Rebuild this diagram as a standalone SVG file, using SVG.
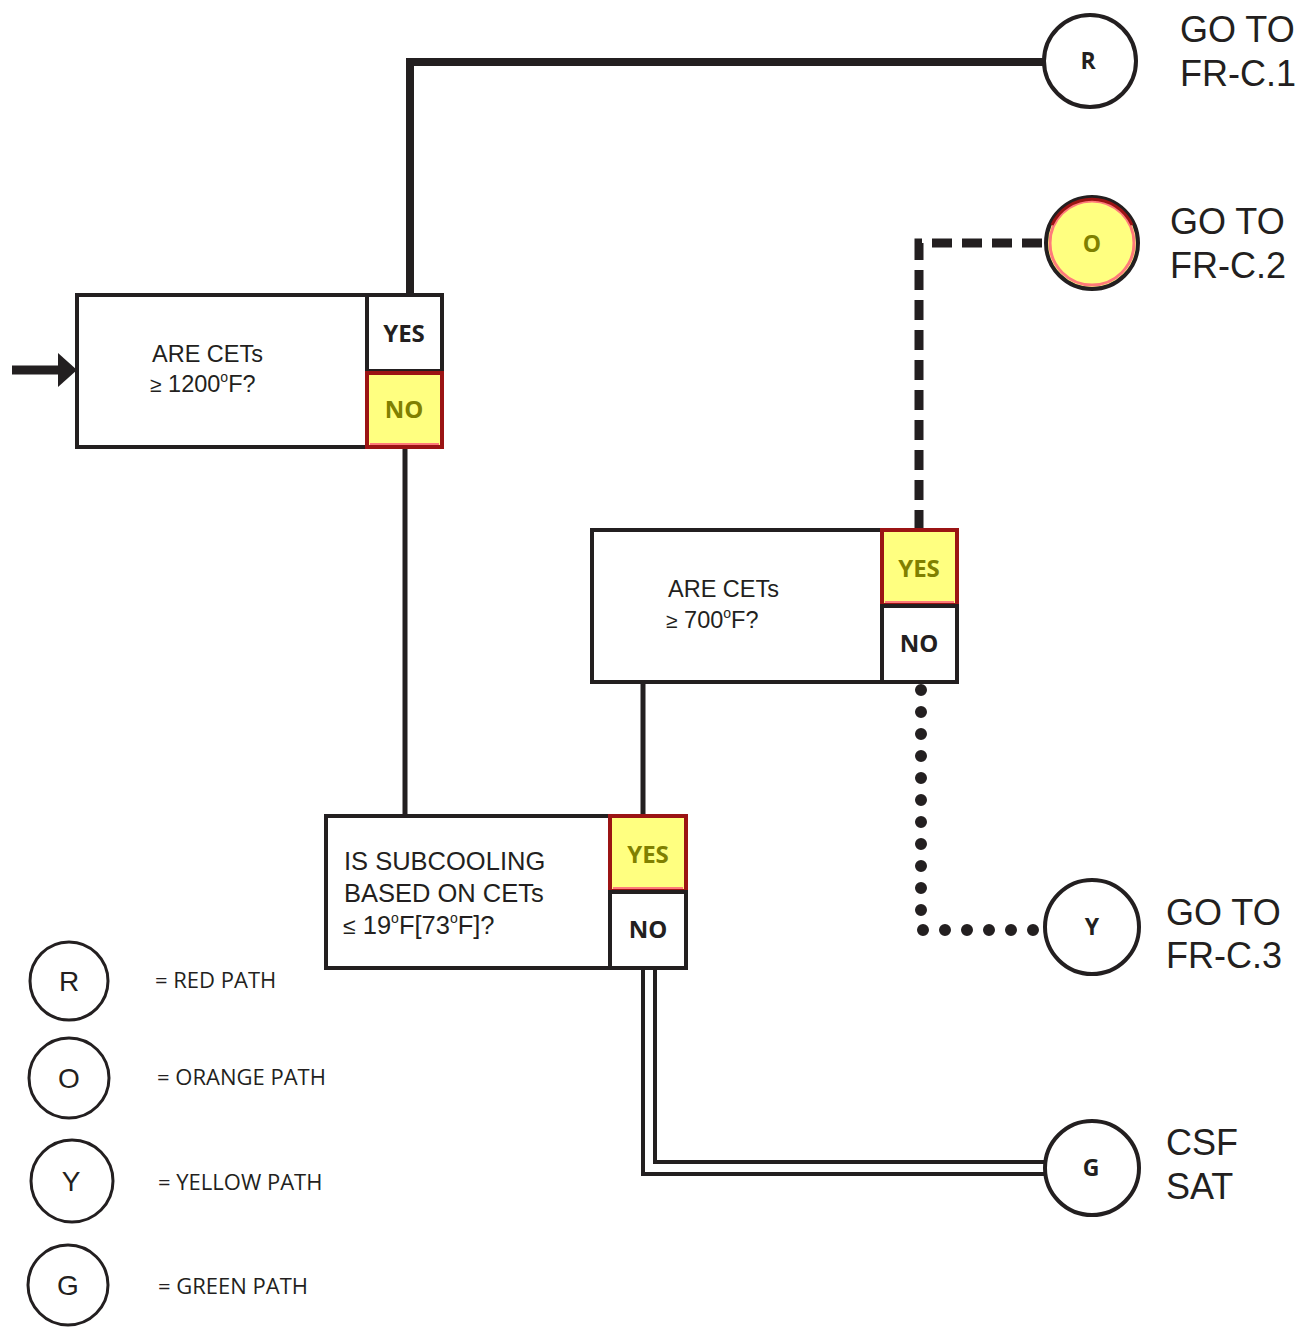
<svg xmlns="http://www.w3.org/2000/svg" width="1307" height="1332" viewBox="0 0 1307 1332">
<style>
.box{fill:#fff;stroke:#231f20;stroke-width:4}
.cell{fill:#fff;stroke:#231f20;stroke-width:4}
.hl{fill:#ffff80;stroke:#9b1414;stroke-width:4}
.hlin{fill:none;stroke:#ff7a7a;stroke-width:2}
.q{font-family:"Liberation Sans",Arial,sans-serif;font-size:23.5px;fill:#231f20}
.q3{font-family:"Liberation Sans",Arial,sans-serif;font-size:25.5px;fill:#231f20}
.yn{font-family:"Open Sans",sans-serif;font-weight:bold;font-size:24px;text-anchor:middle;fill:#231f20}
.ynh{fill:#808000}
.ep{fill:#fff;stroke:#231f20;stroke-width:4}
.epl{font-family:"Open Sans",sans-serif;font-weight:bold;font-size:23px;text-anchor:middle;fill:#231f20}
.go{font-family:"Liberation Sans",Arial,sans-serif;font-size:36px;fill:#231f20}
.lg{fill:#fff;stroke:#231f20;stroke-width:3}
.lgl{font-family:"Liberation Sans",Arial,sans-serif;font-size:28px;text-anchor:middle;fill:#231f20}
.lgt{font-family:"Open Sans",sans-serif;font-size:22px;fill:#231f20}
.sm{font-size:21px}
.sup{font-size:14px}
</style>
<g id="connectors" fill="none" stroke="#231f20">
  <path d="M410 295 V62 H1043" stroke-width="8"/>
  <path d="M12 370 H60" stroke-width="9"/>
  <polygon points="58,353 77,370 58,387" fill="#231f20" stroke="none"/>
  <path d="M405 447 V816" stroke-width="5"/>
  <path d="M643 682 V816" stroke-width="5"/>
  <path d="M919 530 V243 H1046" stroke-width="9" stroke-dasharray="20 10"/>
  <path d="M921 690 V930 H1045" stroke-width="12" stroke-linecap="round" stroke-dasharray="0 22"/>
  <path d="M643 968 V1174 H1046" stroke-width="4"/>
  <path d="M655 968 V1162 H1046" stroke-width="4"/>
</g>
<g id="q1">
  <rect class="box" x="77" y="295" width="365" height="152"/>
  <rect class="cell" x="367" y="295" width="75" height="76"/>
  <rect class="hl" x="367" y="373" width="75" height="74"/>
  <line class="hlin" x1="370" y1="444" x2="439" y2="444"/>
  <text class="q" x="152" y="362">ARE CETs</text>
  <text class="q" x="150" y="392"><tspan class="sm">≥</tspan> 1200<tspan class="sup" dy="-10">o</tspan><tspan dy="10">F?</tspan></text>
  <text class="yn" x="404" y="342">YES</text>
  <text class="yn ynh" x="404" y="418">NO</text>
</g>
<g id="q2">
  <rect class="box" x="592" y="530" width="365" height="152"/>
  <rect class="hl" x="882" y="530" width="75" height="75"/>
  <line class="hlin" x1="885" y1="602" x2="954" y2="602"/>
  <rect class="cell" x="882" y="606" width="75" height="76"/>
  <text class="q" x="668" y="597">ARE CETs</text>
  <text class="q" x="666" y="628"><tspan class="sm">≥</tspan> 700<tspan class="sup" dy="-10">o</tspan><tspan dy="10">F?</tspan></text>
  <text class="yn ynh" x="919" y="577">YES</text>
  <text class="yn" x="919" y="652">NO</text>
</g>
<g id="q3">
  <rect class="box" x="326" y="816" width="360" height="152"/>
  <rect class="hl" x="610" y="816" width="76" height="75"/>
  <line class="hlin" x1="613" y1="888" x2="683" y2="888"/>
  <rect class="cell" x="610" y="892" width="76" height="76"/>
  <text class="q3" x="344" y="870">IS SUBCOOLING</text>
  <text class="q3" x="344" y="902">BASED ON CETs</text>
  <text class="q3" x="343" y="934"><tspan font-size="23">≤</tspan> 19<tspan class="sup" dy="-11">o</tspan><tspan dy="11">F[73</tspan><tspan class="sup" dy="-11">o</tspan><tspan dy="11">F]?</tspan></text>
  <text class="yn ynh" x="648" y="863">YES</text>
  <text class="yn" x="648" y="938">NO</text>
</g>
<g id="end-r">
  <circle class="ep" cx="1090" cy="61" r="46"/>
  <text class="epl" x="1088" y="69">R</text>
  <text class="go" x="1180" y="42">GO TO</text>
  <text class="go" x="1180" y="86">FR-C.1</text>
</g>
<g id="end-o">
  <circle cx="1092" cy="243" r="46" fill="#ffff80" stroke="#231f20" stroke-width="4"/>
  <circle cx="1092" cy="243" r="42" fill="none" stroke="#ff7a7a" stroke-width="3"/>
  <path d="M1052 225 A44 44 0 0 1 1132 225" fill="none" stroke="#9b1414" stroke-width="3"/>
  <text class="epl" x="1092" y="252" style="fill:#808000">O</text>
  <text class="go" x="1170" y="234">GO TO</text>
  <text class="go" x="1170" y="278">FR-C.2</text>
</g>
<g id="end-y">
  <circle class="ep" cx="1092" cy="927" r="47"/>
  <text class="epl" x="1092" y="935">Y</text>
  <text class="go" x="1166" y="925">GO TO</text>
  <text class="go" x="1166" y="968">FR-C.3</text>
</g>
<g id="end-g">
  <circle class="ep" cx="1092" cy="1168" r="47"/>
  <text class="epl" x="1091" y="1176">G</text>
  <text class="go" x="1166" y="1155">CSF</text>
  <text class="go" x="1166" y="1199">SAT</text>
</g>
<g id="legend">
  <circle class="lg" cx="69" cy="981" r="39"/>
  <text class="lgl" x="69" y="991">R</text>
  <text class="lgt" x="155" y="988">= RED PATH</text>
  <circle class="lg" cx="69" cy="1078" r="40"/>
  <text class="lgl" x="69" y="1088">O</text>
  <text class="lgt" x="157" y="1085">= ORANGE PATH</text>
  <circle class="lg" cx="72" cy="1181" r="41"/>
  <text class="lgl" x="71" y="1191">Y</text>
  <text class="lgt" x="158" y="1190">= YELLOW PATH</text>
  <circle class="lg" cx="68" cy="1285" r="40"/>
  <text class="lgl" x="68" y="1295">G</text>
  <text class="lgt" x="158" y="1294">= GREEN PATH</text>
</g>
</svg>
